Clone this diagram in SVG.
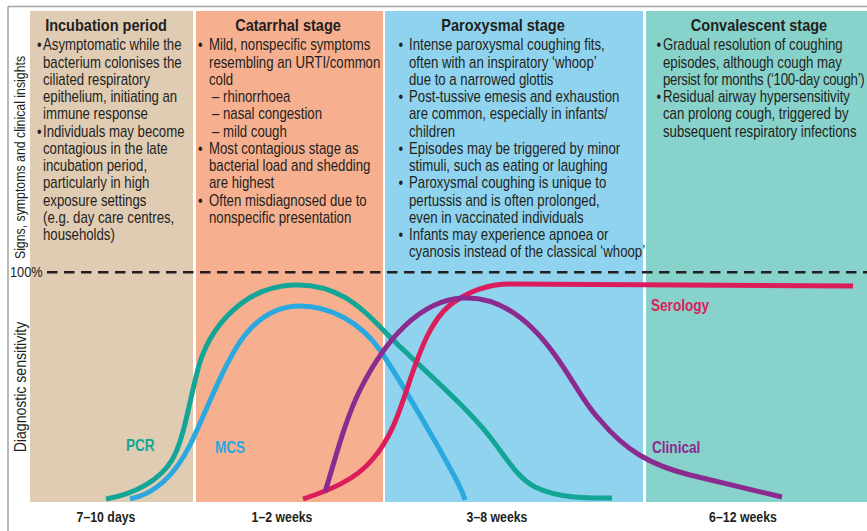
<svg xmlns="http://www.w3.org/2000/svg" width="867" height="531" viewBox="0 0 867 531">
<style>
text{font-family:"Liberation Sans",Arial,sans-serif;fill:#231f20}
.t{font-size:16.5px;font-weight:bold;text-anchor:middle}
.b{font-size:16px}
.ax{font-size:14.5px}
.wk{font-size:14px;font-weight:bold;text-anchor:middle}
.cl{font-size:17px;font-weight:bold}
.crv{fill:none;stroke-width:5;stroke-linecap:butt;stroke-linejoin:round}
</style>
<rect width="867" height="531" fill="#ffffff"/>
<g id="frame" stroke="#a3a3a3" stroke-width="1.5" fill="none">
<line x1="8" y1="6.5" x2="867" y2="6.5"/>
<line x1="8" y1="6.5" x2="8" y2="531"/>
</g>
<g id="incubation">
<rect x="30" y="11" width="163" height="491" fill="#e0cbb3"/>
<text class="t" transform="translate(106,31) scale(0.88,1)">Incubation period</text>
<g class="b" transform="scale(0.825,1)">
<text x="44.85" y="50.5">•</text>
<text x="52.12" y="50.5">Asymptomatic while the</text>
<text x="52.12" y="67.75">bacterium colonises the</text>
<text x="52.12" y="85">ciliated respiratory</text>
<text x="52.12" y="102.25">epithelium, initiating an</text>
<text x="52.12" y="119.5">immune response</text>
<text x="44.85" y="136.75">•</text>
<text x="52.12" y="136.75">Individuals may become</text>
<text x="52.12" y="154">contagious in the late</text>
<text x="52.12" y="171.25">incubation period,</text>
<text x="52.12" y="188.5">particularly in high</text>
<text x="52.12" y="205.75">exposure settings</text>
<text x="52.12" y="223">(e.g. day care centres,</text>
<text x="52.12" y="240.25">households)</text>
</g>
</g>
<g id="catarrhal">
<rect x="196" y="11" width="187" height="491" fill="#f7b08f"/>
<text class="t" transform="translate(288,31) scale(0.88,1)">Catarrhal stage</text>
<g class="b" transform="scale(0.825,1)">
<text x="240" y="50.5">•</text>
<text x="253.33" y="50.5">Mild, nonspecific symptoms</text>
<text x="253.33" y="67.75">resembling an URTI/common</text>
<text x="253.33" y="85">cold</text>
<text x="256.97" y="102.25">–  rhinorrhoea</text>
<text x="256.97" y="119.5">–  nasal congestion</text>
<text x="256.97" y="136.75">–  mild cough</text>
<text x="240" y="154">•</text>
<text x="253.33" y="154">Most contagious stage as</text>
<text x="253.33" y="171.25">bacterial load and shedding</text>
<text x="253.33" y="188.5">are highest</text>
<text x="240" y="205.75">•</text>
<text x="253.33" y="205.75">Often misdiagnosed due to</text>
<text x="253.33" y="223">nonspecific presentation</text>
</g>
</g>
<g id="paroxysmal">
<rect x="385" y="11" width="258" height="491" fill="#90d3ee"/>
<text class="t" transform="translate(503,31) scale(0.88,1)">Paroxysmal stage</text>
<g class="b" transform="scale(0.825,1)">
<text x="482.9" y="50.5">•</text>
<text x="495.76" y="50.5">Intense paroxysmal coughing fits,</text>
<text x="495.76" y="67.75">often with an inspiratory ‘whoop’</text>
<text x="495.76" y="85">due to a narrowed glottis</text>
<text x="482.9" y="102.25">•</text>
<text x="495.76" y="102.25">Post-tussive emesis and exhaustion</text>
<text x="495.76" y="119.5">are common, especially in infants/</text>
<text x="495.76" y="136.75">children</text>
<text x="482.9" y="154">•</text>
<text x="495.76" y="154">Episodes may be triggered by minor</text>
<text x="495.76" y="171.25">stimuli, such as eating or laughing</text>
<text x="482.9" y="188.5">•</text>
<text x="495.76" y="188.5">Paroxysmal coughing is unique to</text>
<text x="495.76" y="205.75">pertussis and is often prolonged,</text>
<text x="495.76" y="223">even in vaccinated individuals</text>
<text x="482.9" y="240.25">•</text>
<text x="495.76" y="240.25">Infants may experience apnoea or</text>
<text x="495.76" y="257.5">cyanosis instead of the classical ‘whoop’</text>
</g>
</g>
<g id="convalescent">
<rect x="646" y="11" width="221" height="491" fill="#87d2ca"/>
<text class="t" transform="translate(759,31) scale(0.88,1)">Convalescent stage</text>
<g class="b" transform="scale(0.825,1)">
<text x="795.8" y="50.5">•</text>
<text x="803.6" y="50.5">Gradual resolution of coughing</text>
<text x="803.6" y="67.75">episodes, although cough may</text>
<text x="803.6" y="85" letter-spacing="-0.3">persist for months (‘100-day cough’)</text>
<text x="795.8" y="102.25">•</text>
<text x="803.6" y="102.25">Residual airway hypersensitivity</text>
<text x="803.6" y="119.5">can prolong cough, triggered by</text>
<text x="803.6" y="136.75">subsequent respiratory infections</text>
</g>
</g>
<g id="axes">
<text style="font-size:14px" transform="translate(24.5,157.5) rotate(-90) scale(0.88,1)" text-anchor="middle">Signs, symptoms and clinical insights</text>
<text class="ax" transform="translate(10,277) scale(0.88,1)">100%</text>
<line x1="47" y1="272.3" x2="867" y2="272.3" stroke="#231f20" stroke-width="2.6" stroke-dasharray="10.5,6.5"/>
<text style="font-size:16px" transform="translate(25.5,387) rotate(-90) scale(0.88,1)" text-anchor="middle">Diagnostic sensitivity</text>
<g transform="scale(0.88,1)">
<text class="wk" x="120.45" y="522">7–10 days</text>
<text class="wk" x="320.45" y="522">1–2 weeks</text>
<text class="wk" x="564.77" y="522">3–8 weeks</text>
<text class="wk" x="844.3" y="522">6–12 weeks</text>
</g>
</g>
<g id="connectors">
<path id="pcr" class="crv" stroke="#13a596" d="M106,499 C135,494 160,480 172,460 C185,438 190,395 200,362 C212,325 245,287 293,285 C335,283 360,305 385,332 C420,367 465,405 490,437 C510,463 518,478 535,487 C560,499 590,498 612,498"/>
<path id="mcs" class="crv" stroke="#29a9e0" d="M130,499 C155,494 175,475 190,445 C205,415 225,360 245,335 C262,314 280,306 300,306 C330,306 360,322 380,350 C400,380 420,415 440,450 C452,472 462,488 465,500"/>
<path id="serology" class="crv" stroke="#dc1d5c" d="M303,499 C330,490 355,480 372,460 C392,437 400,410 410,380 C422,345 432,320 450,305 C470,290 490,284 510,284 L853,286"/>
<path id="clinical" class="crv" stroke="#8b2a8f" d="M325,492 C335,460 345,420 360,390 C385,340 420,300 463,298 C500,296 530,320 555,355 C575,383 585,405 600,420 C625,450 650,465 690,475 L782,497"/>
</g>
<g id="labels" transform="scale(0.8,1)">
<text class="cl" x="157.5" y="451" style="fill:#13a596">PCR</text>
<text class="cl" x="268.75" y="453" style="fill:#29a9e0">MCS</text>
<text class="cl" x="813.75" y="311" style="fill:#dc1d5c">Serology</text>
<text class="cl" x="815" y="453" style="fill:#8b2a8f">Clinical</text>
</g>
</svg>
